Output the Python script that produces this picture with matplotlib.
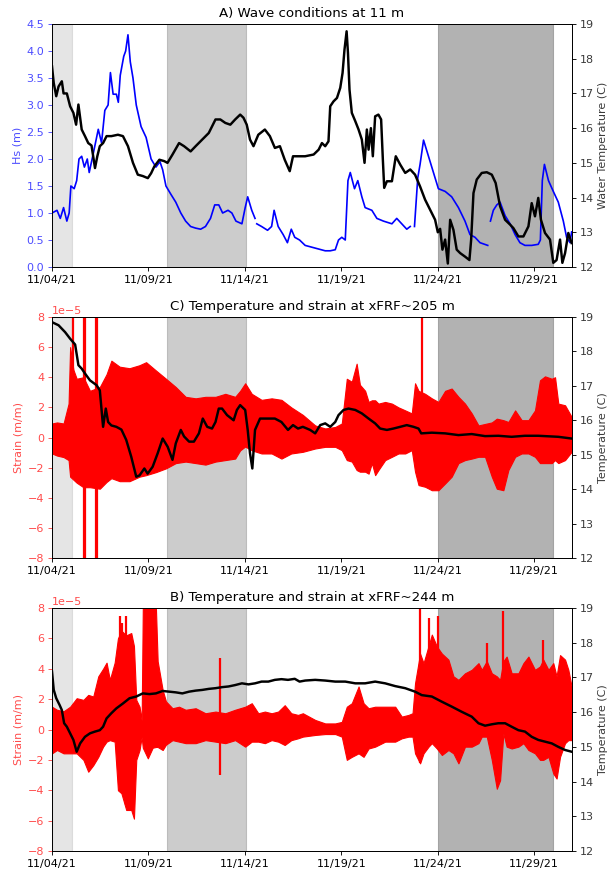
import datetime
import numpy as np
import matplotlib
matplotlib.use("Agg")
from matplotlib import pyplot as plt
import matplotlib.dates as mdates

nan = np.nan
start = datetime.datetime(2021, 11, 4)

# shaded periods (days since 11/04/21) and their alpha
span_days = [(0.0, 1.05), (5.97, 10.05), (20.0, 26.0)]
span_alpha = [0.2, 0.4, 0.6]

# ---- A) wave height at 11 m
hs_day = [0, 0.26, 0.43, 0.60, 0.77, 0.89, 0.98, 1.15, 1.28, 1.40, 1.54, 1.68, 1.83, 1.93, 2.14,
          2.40, 2.57, 2.74, 2.91, 3.03, 3.17, 3.34, 3.44, 3.54, 3.72, 3.82, 3.94, 4.06, 4.20, 4.37,
          4.62, 4.88, 5.14, 5.39, 5.60, 5.74, 5.91, 6.16, 6.42, 6.68, 6.93, 7.19, 7.45, 7.71, 7.96,
          8.22, 8.44, 8.65, 8.85, 9.13, 9.33, 9.54, 9.85, 10.02, 10.15, 10.36, 10.53, 10.57, 10.62,
          10.87, 11.18, 11.39, 11.52, 11.73, 11.99, 12.21, 12.41, 12.59, 12.84, 13.13, 13.65, 14.17,
          14.43, 14.69, 14.86, 15.03, 15.21, 15.35, 15.47, 15.69, 15.86, 16.07, 16.24, 16.59, 16.85,
          17.19, 17.63, 17.88, 18.14, 18.40, 18.58, 18.66, 18.80, 18.97, 19.09, 19.27, 19.44, 19.61,
          19.87, 20.04, 20.39, 20.73, 21.08, 21.42, 21.68, 21.94, 22.20, 22.60, 22.67, 22.74, 22.89,
          23.07, 23.24, 23.50, 23.76, 24.02, 24.27, 24.53, 24.88, 25.22, 25.33, 25.43, 25.54, 25.75,
          26.00, 26.26, 26.52, 26.69, 26.87, 26.95]
hs_val = [1.0, 1.05, 0.9, 1.1, 0.85, 1.0, 1.5, 1.45, 1.6, 2.0, 2.05, 1.85, 2.0, 1.75, 2.1,
          2.55, 2.3, 2.9, 3.0, 3.6, 3.2, 3.2, 3.05, 3.55, 3.9, 4.0, 4.3, 3.8, 3.5, 3.0,
          2.6, 2.4, 2.0, 1.85, 1.95, 1.8, 1.5, 1.35, 1.2, 1.0, 0.85, 0.75, 0.72, 0.7, 0.75,
          0.9, 1.15, 1.15, 1.0, 1.05, 1.0, 0.85, 0.8, 1.1, 1.3, 1.05, 0.9, nan, 0.8,
          0.75, 0.68, 0.75, 1.05, 0.75, 0.6, 0.45, 0.7, 0.55, 0.5, 0.4, 0.35, 0.3,
          0.3, 0.32, 0.5, 0.55, 0.5, 1.6, 1.75, 1.45, 1.6, 1.3, 1.1, 1.05, 0.9,
          0.85, 0.8, 0.9, 0.8, 0.7, 0.75, nan, 0.75, 1.65, 1.9, 2.35, 2.15, 1.95,
          1.65, 1.45, 1.4, 1.3, 1.1, 0.85, 0.6, 0.55, 0.45, 0.4, nan, 0.85, 1.05,
          1.15, 1.2, 0.95, 0.8, 0.6, 0.45, 0.4, 0.4, 0.42, 0.5, 1.6, 1.9, 1.6,
          1.4, 1.2, 0.85, 0.55, 0.45, 0.65]

wt_day = [0, 0.09, 0.22, 0.34, 0.51, 0.60, 0.77, 0.94, 1.11, 1.25, 1.37, 1.54, 1.71, 1.88, 2.05,
          2.23, 2.35, 2.48, 2.65, 2.83, 3.08, 3.42, 3.68, 3.94, 4.20, 4.45, 4.71, 4.97, 5.14, 5.31,
          5.57, 5.82, 5.99, 6.25, 6.59, 6.85, 7.19, 7.45, 7.79, 8.13, 8.48, 8.73, 8.99, 9.25, 9.50,
          9.76, 9.93, 10.10, 10.27, 10.45, 10.70, 11.04, 11.30, 11.56, 11.82, 12.07, 12.33, 12.50,
          12.76, 13.01, 13.13, 13.57, 13.83, 14.0, 14.17, 14.34, 14.43, 14.60, 14.78, 14.95, 15.07,
          15.17, 15.28, 15.35, 15.43, 15.55, 15.73, 15.90, 16.07, 16.21, 16.33, 16.42, 16.54, 16.64,
          16.76, 16.93, 17.07, 17.16, 17.23, 17.37, 17.63, 17.83, 18.06, 18.32, 18.58, 18.83, 19.09,
          19.35, 19.61, 19.87, 20.01, 20.13, 20.25, 20.39, 20.53, 20.65, 20.82, 20.99, 21.17, 21.42,
          21.65, 21.74, 21.86, 22.03, 22.29, 22.55, 22.81, 23.01, 23.24, 23.50, 23.76, 23.93, 24.19,
          24.45, 24.71, 24.88, 25.05, 25.22, 25.36, 25.57, 25.83, 26.00, 26.17, 26.35, 26.47, 26.61,
          26.78, 26.95]
wt_val = [17.78, 17.3, 16.92, 17.2, 17.35, 17.0, 17.0, 16.63, 16.44, 16.1, 16.68, 15.96, 15.77, 15.57, 15.5,
          14.85, 15.19, 15.48, 15.57, 15.77, 15.77, 15.81, 15.77, 15.48, 15.0, 14.66, 14.62, 14.56, 14.7, 14.9,
          15.09, 15.05, 15.0, 15.24, 15.57, 15.48, 15.33, 15.48, 15.67, 15.86, 16.25, 16.25, 16.15, 16.1, 16.25,
          16.39, 16.3, 16.1, 15.67, 15.48, 15.81, 15.96, 15.77, 15.43, 15.48, 15.09, 14.76, 15.19,
          15.19, 15.19, 15.19, 15.24, 15.38, 15.57, 15.48, 15.62, 16.63, 16.77, 16.87, 17.16, 17.59,
          18.26, 18.79, 18.17, 17.11, 16.44, 16.2, 15.96, 15.67, 15.0, 15.96, 15.38, 16.0, 15.19,
          16.34, 16.39, 16.25, 15.09, 14.28, 14.47, 14.47, 15.19, 14.95, 14.71, 14.81, 14.66, 14.32,
          13.94, 13.65, 13.36, 13.0, 13.1, 12.5, 12.79, 12.1, 13.36, 13.07, 12.5, 12.4, 12.3,
          12.2, 12.79, 14.13, 14.52, 14.71, 14.73, 14.66, 14.42, 13.75, 13.36, 13.22, 13.12, 12.88,
          12.88, 13.17, 13.84, 13.46, 13.99, 13.36, 12.98, 12.79, 12.12, 12.2, 12.79, 12.12, 12.4,
          12.98, 12.69]

# ---- C) xFRF~205 m : strain envelope (1e-5), spikes, temperature
c_day = [0, 0.26, 0.60, 0.86, 0.94, 1.11, 1.28, 1.63, 1.97, 2.48, 2.83, 3.08, 3.51, 4.02, 4.54,
         4.88, 5.39, 5.91, 6.42, 6.93, 7.45, 7.96, 8.48, 8.99, 9.50, 9.76, 10.02, 10.36, 10.87,
         11.39, 11.90, 12.41, 13.01, 13.65, 14.17, 14.69, 15.03, 15.29, 15.55, 15.80, 15.97, 16.24,
         16.42, 16.59, 16.76, 16.93, 17.28, 17.63, 17.97, 18.32, 18.66, 18.83, 19.01, 19.35, 19.70,
         20.04, 20.39, 20.73, 21.08, 21.42, 21.77, 22.12, 22.46, 22.81, 23.07, 23.41, 23.67, 24.02,
         24.36, 24.71, 25.05, 25.31, 25.57, 25.92, 26.09, 26.26, 26.61, 26.95]
c_up = [0.93, 1.0, 0.93, 2.25, 6.0, 4.5, 3.9, 4.0, 3.1, 3.35, 4.2, 5.1, 4.7, 4.6, 4.8,
        5.0, 4.45, 3.9, 3.35, 2.7, 2.6, 2.7, 2.7, 2.9, 2.7, 3.1, 3.6, 2.9, 2.5,
        2.6, 2.5, 2.0, 1.5, 0.8, 0.6, 0.7, 0.93, 3.9, 3.7, 4.9, 3.5, 3.1,
        2.36, 2.47, 2.47, 2.25, 2.36, 2.25, 2.0, 1.8, 1.6, 3.6, 3.1, 2.9, 2.6,
        2.36, 3.1, 3.25, 2.7, 2.25, 1.6, 0.8, 0.9, 1.0, 1.25, 1.15, 1.03, 1.8,
        1.15, 1.15, 1.8, 3.8, 4.06, 3.9, 4.0, 2.25, 2.14, 1.37]
c_lo = [-1.06, -1.2, -1.3, -1.5, -2.6, -2.8, -3.0, -3.3, -3.3, -3.4, -2.95, -2.7, -2.9, -2.9, -2.6,
        -2.5, -2.3, -2.05, -1.7, -1.6, -1.7, -1.8, -1.6, -1.5, -1.4, -0.85, -0.6, -0.85, -1.06,
        -1.06, -1.4, -1.06, -0.95, -0.73, -0.62, -0.62, -0.84, -1.5, -1.6, -2.16, -2.27, -2.27,
        -2.4, -1.7, -2.5, -2.16, -1.5, -1.28, -1.06, -1.06, -0.84, -2.27, -3.16, -3.27, -3.5,
        -3.5, -3.05, -2.6, -1.7, -1.5, -1.4, -1.28, -1.28, -2.6, -3.4, -3.5, -2.16, -1.28,
        -1.06, -1.06, -1.28, -1.7, -1.7, -1.7, -1.5, -1.7, -1.5, -0.95]
c_spike_day = [1.07, 1.66, 1.70, 2.30, 2.34, 19.21]
c_spike_lo = [-1.0, -8.0, -8.0, -8.0, -8.0, 0.0]
c_spike_hi = [8.0, 8.0, 8.0, 8.0, 8.0, 8.0]

ct_day = [0, 0.34, 0.68, 0.94, 1.20, 1.37, 1.54, 1.71, 1.97, 2.31, 2.48, 2.65, 2.79, 2.91, 3.08,
          3.34, 3.60, 3.85, 4.11, 4.37, 4.54, 4.79, 4.96, 5.22, 5.48, 5.74, 6.0, 6.25, 6.42, 6.68,
          6.85, 7.11, 7.36, 7.62, 7.82, 8.05, 8.30, 8.48, 8.65, 8.82, 9.08, 9.42, 9.59, 9.76, 10.02,
          10.15, 10.27, 10.39, 10.53, 10.79, 11.04, 11.56, 11.90, 12.24, 12.50, 12.76, 13.01, 13.39,
          13.65, 13.91, 14.17, 14.43, 14.69, 14.86, 15.12, 15.38, 15.73, 16.07, 16.42, 16.76, 17.02,
          17.37, 17.71, 18.06, 18.40, 18.75, 19.01, 19.15, 19.70, 20.39, 21.08, 21.77, 22.46, 23.15,
          23.84, 24.53, 25.22, 25.57, 26.26, 26.95]
ct_val = [18.85, 18.76, 18.56, 18.37, 18.2, 17.6, 17.5, 17.36, 17.16, 17.02, 16.87, 15.81, 16.34, 15.95, 15.85,
          15.81, 15.73, 15.43, 14.94, 14.36, 14.4, 14.6, 14.45, 14.65, 15.04, 15.47, 15.23, 14.85, 15.33, 15.72,
          15.53, 15.38, 15.38, 15.62, 16.05, 15.81, 15.76, 15.95, 16.34, 16.34, 16.15, 16.0, 16.3, 16.44, 16.3,
          15.72, 15.04, 14.6, 15.72, 16.05, 16.05, 16.05, 15.95, 15.72, 15.86, 15.76, 15.81, 15.72,
          15.62, 15.86, 15.91, 15.81, 15.95, 16.15, 16.3, 16.34, 16.3, 16.2, 16.05, 15.91, 15.76,
          15.72, 15.76, 15.81, 15.86, 15.81, 15.76, 15.62, 15.64, 15.62, 15.57, 15.6, 15.54, 15.55,
          15.52, 15.55, 15.55, 15.54, 15.52, 15.47]

# ---- B) xFRF~244 m
b_day = [0, 0.26, 0.60, 0.94, 1.28, 1.63, 1.88, 2.14, 2.40, 2.65, 2.83, 3.00, 3.25, 3.42, 3.60,
         3.85, 4.11, 4.25, 4.37, 4.54, 4.65, 4.71, 4.97, 5.22, 5.39, 5.48, 5.74, 5.91, 6.25, 6.59,
         6.93, 7.45, 7.96, 8.48, 8.99, 9.50, 10.02, 10.36, 10.70, 11.04, 11.39, 11.73, 12.07, 12.41,
         12.76, 13.01, 13.65, 14.17, 14.69, 15.03, 15.29, 15.55, 15.90, 16.16, 16.42, 16.76, 17.28,
         17.80, 18.14, 18.49, 18.70, 18.83, 19.09, 19.27, 19.53, 19.70, 19.96, 20.22, 20.56, 20.82,
         21.08, 21.42, 21.77, 22.12, 22.29, 22.55, 22.81, 23.07, 23.24, 23.41, 23.58, 23.84, 24.19,
         24.45, 24.71, 25.05, 25.31, 25.48, 25.75, 26.00, 26.17, 26.35, 26.61, 26.78, 26.95]
b_up = [1.5, 1.3, 1.2, 1.5, 2.06, 1.95, 2.28, 2.17, 3.5, 4.0, 4.4, 3.27, 4.4, 6.0, 6.5,
        6.2, 6.35, 5.5, 1.95, 1.5, 0.6, 8.0, 8.0, 8.0, 8.0, 4.5, 2.6, 1.85, 1.4, 1.5,
        1.3, 1.4, 1.07, 1.18, 1.07, 1.3, 1.5, 1.73, 1.07, 1.18, 1.07, 1.18, 1.6, 1.07,
        0.96, 1.07, 0.63, 0.4, 0.4, 0.5, 1.5, 1.73, 2.83, 1.73, 1.4, 1.5, 1.5,
        1.5, 0.85, 0.96, 1.07, 3.05, 5.0, 4.37, 5.5, 6.25, 5.47, 5.0, 4.6, 3.5,
        3.27, 3.7, 3.93, 4.37, 3.93, 4.5, 3.7, 3.5, 3.27, 4.5, 4.8, 3.7, 3.7,
        4.37, 4.8, 3.93, 4.15, 4.6, 3.93, 4.37, 3.5, 4.9, 4.6, 3.93, 2.83]
b_lo = [-1.57, -1.35, -1.57, -1.57, -1.57, -2.0, -2.78, -2.35, -1.8, -1.13, -0.8, -0.7, -0.8, -4.0, -4.2,
        -5.3, -5.3, -5.87, -2.0, -1.35, -0.5, -1.2, -1.9, -1.2, -1.15, -1.15, -1.35, -1.0, -0.7, -0.8,
        -0.9, -0.9, -0.7, -0.8, -0.9, -0.7, -1.13, -0.8, -0.8, -0.9, -0.7, -0.8, -1.02, -0.7,
        -0.58, -0.47, -0.36, -0.3, -0.3, -0.47, -2.0, -1.8, -1.57, -1.8, -1.25, -1.13, -0.8,
        -0.8, -0.58, -0.47, -0.47, -1.57, -2.23, -1.57, -1.13, -0.9, -1.25, -1.68, -1.35, -1.57,
        -2.23, -1.13, -1.13, -0.9, -0.47, -0.47, -2.0, -3.9, -3.34, -0.25, -1.13, -1.25, -1.13,
        -0.9, -1.35, -1.57, -2.0, -2.0, -1.8, -2.9, -3.23, -1.8, -0.9, -0.7, -0.7]
b_spike_day = [3.55, 3.62, 3.86, 8.73, 19.09, 19.53, 20.04, 22.55, 23.41, 25.48]
b_spike_lo = [-4.0, -4.2, -5.0, -3.0, -2.2, -1.1, -1.3, -0.5, -0.3, -2.0]
b_spike_hi = [7.45, 7.0, 7.45, 4.7, 8.0, 7.35, 7.45, 5.7, 7.8, 5.9]

bt_day = [0, 0.09, 0.22, 0.39, 0.51, 0.63, 0.77, 0.94, 1.11, 1.28, 1.46, 1.71, 1.97, 2.23, 2.48,
          2.65, 2.83, 3.08, 3.34, 3.68, 4.02, 4.37, 4.71, 5.05, 5.39, 5.74, 6.08, 6.42, 6.76, 7.11,
          7.45, 7.79, 8.13, 8.48, 8.82, 9.16, 9.50, 9.85, 10.19, 10.53, 10.87, 11.22, 11.56, 11.90,
          12.24, 12.59, 12.84, 13.13, 13.65, 14.17, 14.69, 15.21, 15.73, 16.24, 16.76, 17.28, 17.80,
          18.32, 18.83, 19.18, 19.70, 20.22, 20.73, 21.25, 21.77, 22.12, 22.46, 22.81, 23.15, 23.50,
          23.84, 24.19, 24.53, 24.88, 25.22, 25.57, 25.92, 26.26, 26.61, 26.95]
bt_val = [17.17, 16.64, 16.4, 16.21, 16.06, 15.68, 15.58, 15.39, 15.2, 14.86, 15.1, 15.29, 15.39, 15.44, 15.48,
          15.58, 15.82, 15.97, 16.11, 16.25, 16.4, 16.45, 16.54, 16.52, 16.54, 16.61, 16.59, 16.57, 16.54, 16.59,
          16.62, 16.64, 16.67, 16.69, 16.72, 16.74, 16.78, 16.83, 16.8, 16.83, 16.88, 16.88, 16.93, 16.95,
          16.93, 16.96, 16.88, 16.91, 16.93, 16.91, 16.88, 16.88, 16.83, 16.83, 16.88, 16.83, 16.75,
          16.69, 16.59, 16.49, 16.45, 16.3, 16.16, 16.01, 15.87, 15.68, 15.61, 15.65, 15.68, 15.68,
          15.58, 15.48, 15.44, 15.29, 15.2, 15.15, 15.1, 15.0, 14.91, 14.86]

W, H = 610, 873
DPI = 80
BLUE_TXT = "#4c4cff"
RED_TXT = "#ff4c4c"
GRAY_TXT = "#3a3a3a"


def to_dates(days):
    return mdates.date2num(start) + np.asarray(days, dtype=float)


def style_time_axis(ax):
    ax.set_xlim(to_dates([0, 26.97]))
    ax.set_xticks(to_dates([0, 5, 10, 15, 20, 25]))
    ax.xaxis.set_major_formatter(mdates.DateFormatter("%m/%d/%y"))


def add_spans(ax):
    for (d0, d1), a in zip(span_days, span_alpha):
        ax.axvspan(*to_dates([d0, d1]), color="gray", alpha=a)


def box(top, bottom):
    return [52 / W, (H - bottom) / H, 520 / W, (bottom - top) / H]


fig = plt.figure(figsize=(W / DPI, H / DPI), dpi=DPI)

# A) wave conditions
ax = fig.add_axes(box(24, 267))
add_spans(ax)
ax.plot(to_dates(hs_day), hs_val, color="b", lw=1.5)
ax.set_ylim(0, 4.5)
ax.set_yticks(np.arange(0, 4.51, 0.5))
ax.set_ylabel("Hs (m)", color=BLUE_TXT)
ax.tick_params(axis="y", colors=BLUE_TXT)
style_time_axis(ax)
ax.set_title("A) Wave conditions at 11 m")
ax2 = ax.twinx()
ax2.plot(to_dates(wt_day), wt_val, color="k", lw=2.2)
ax2.set_ylim(12, 19)
ax2.set_ylabel("Water Temperature (C)", color=GRAY_TXT)
ax2.tick_params(axis="y", labelcolor=GRAY_TXT)
style_time_axis(ax2)

panels = [
    ((317, 558), "C) Temperature and strain at xFRF~205 m", c_day, c_up, c_lo,
     c_spike_day, c_spike_lo, c_spike_hi, ct_day, ct_val),
    ((608, 851), "B) Temperature and strain at xFRF~244 m", b_day, b_up, b_lo,
     b_spike_day, b_spike_lo, b_spike_hi, bt_day, bt_val),
]

for (top, bottom), title, sd, su, sl, kd, klo, khi, td, tv in panels:
    ax = fig.add_axes(box(top, bottom))
    add_spans(ax)
    ax.fill_between(to_dates(sd), np.array(sl) * 1e-5, np.array(su) * 1e-5,
                    color="r", lw=1.0)
    ax.vlines(to_dates(kd), np.array(klo) * 1e-5, np.array(khi) * 1e-5, color="r", lw=2.0)
    ax.set_ylim(-8e-5, 8e-5)
    ax.set_ylabel("Strain (m/m)", color=RED_TXT)
    ax.tick_params(axis="y", colors=RED_TXT)
    ax.yaxis.get_offset_text().set_color(RED_TXT)
    style_time_axis(ax)
    ax.set_title(title)
    ax2 = ax.twinx()
    ax2.plot(to_dates(td), tv, color="k", lw=2.2)
    ax2.set_ylim(12, 19)
    ax2.set_ylabel("Temperature (C)", color=GRAY_TXT)
    ax2.tick_params(axis="y", labelcolor=GRAY_TXT)
    style_time_axis(ax2)

fig.savefig("out.png", dpi=DPI)
